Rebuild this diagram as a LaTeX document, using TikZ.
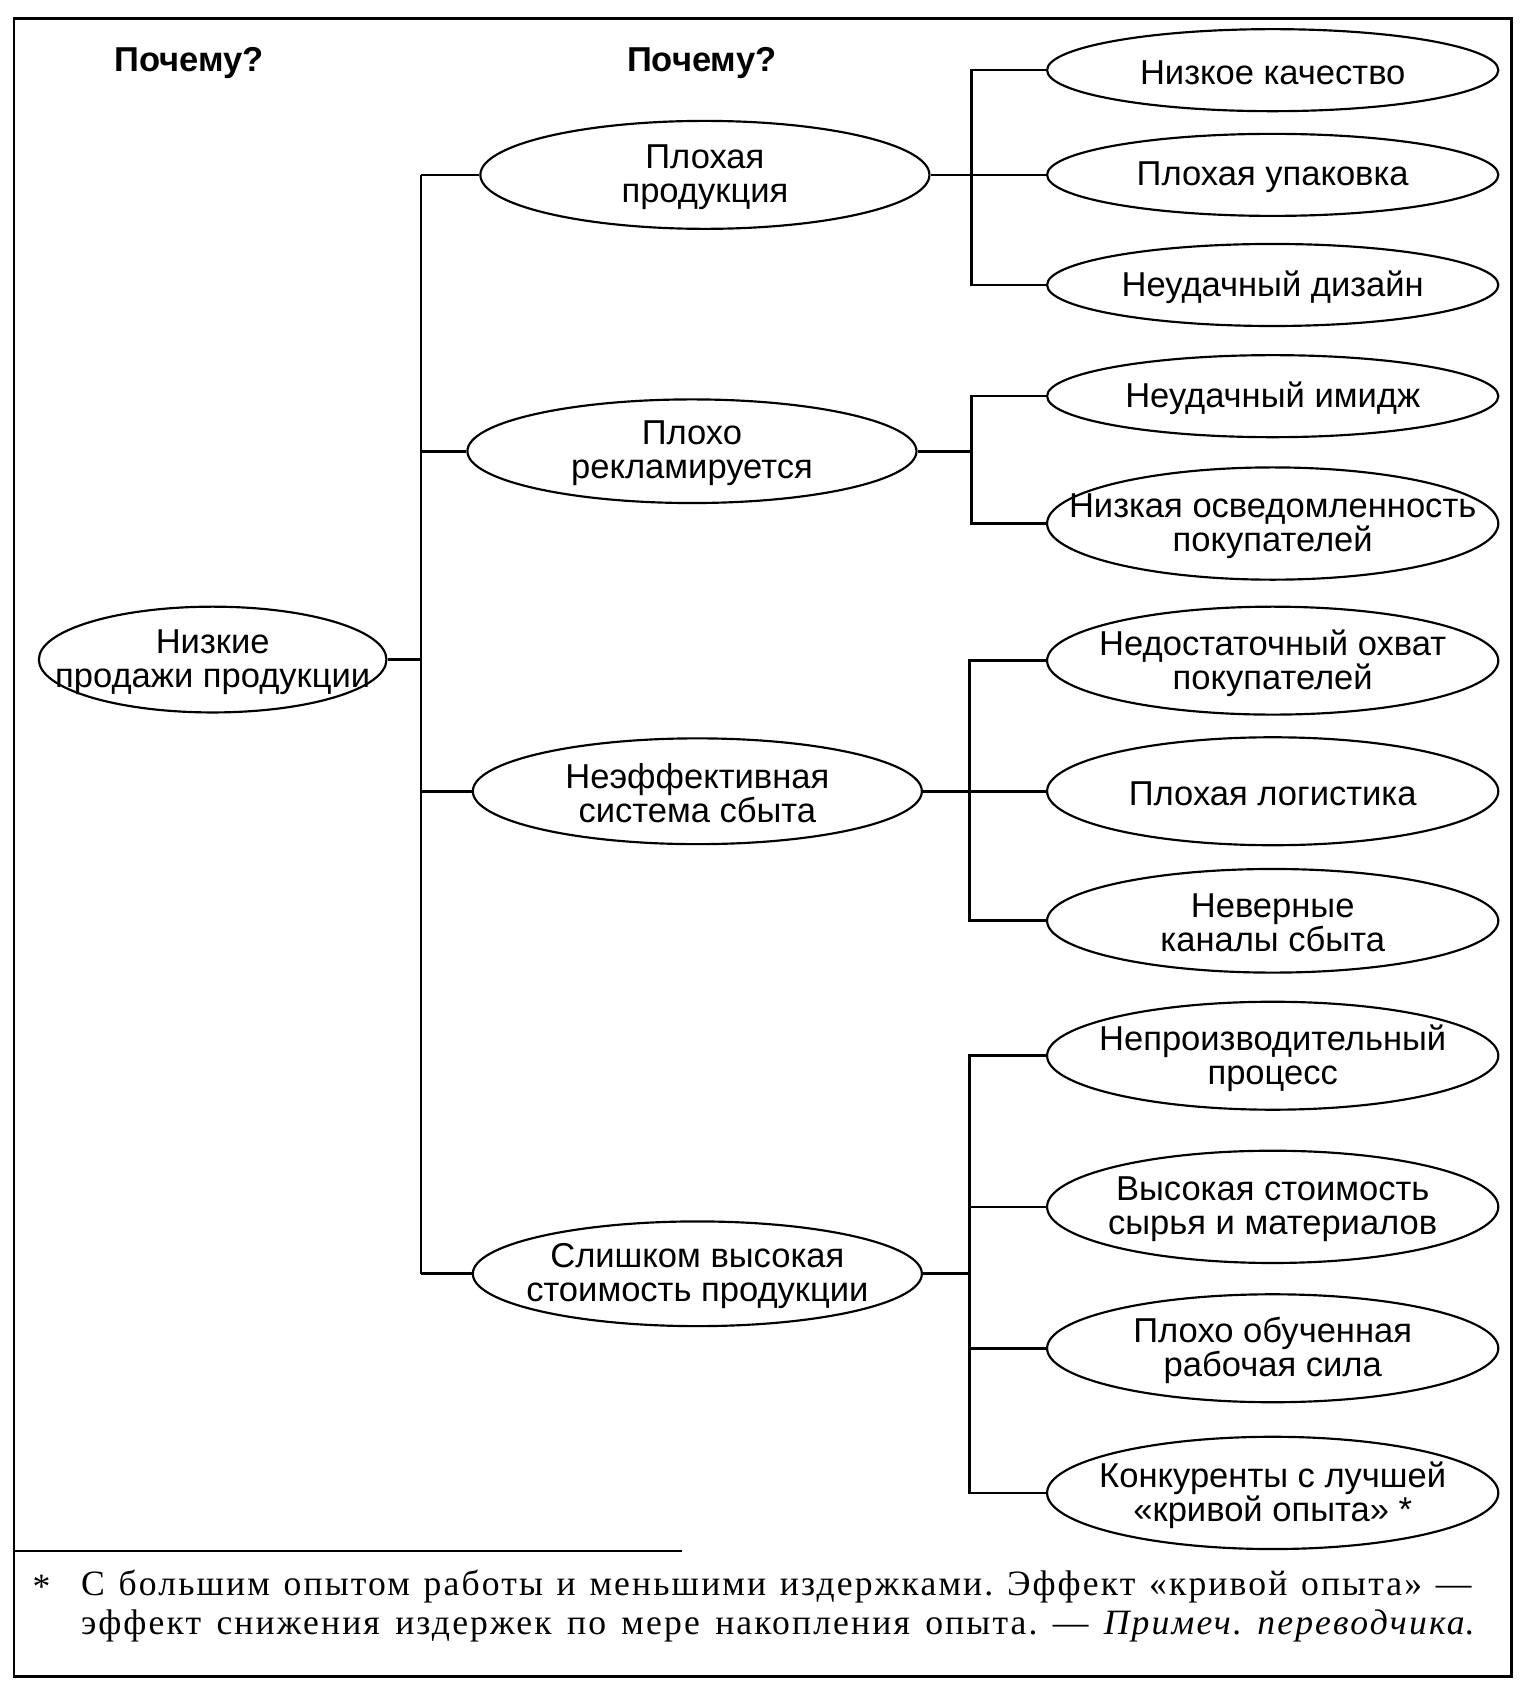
\documentclass[tikz,border=0pt]{standalone}
\usepackage{fontspec}
\setmainfont{Liberation Serif}
\newfontfamily\ellfont{Liberation Sans}
\newfontfamily\footfont[LetterSpace=6]{Liberation Serif}
\usetikzlibrary{shapes.geometric}
\begin{document}
\begin{tikzpicture}[x=1pt,y=-1pt,
  ell/.style={draw, ellipse, line width=2pt, inner sep=0pt},
  txt/.style={align=center, inner sep=0pt, yshift=-2pt, font=\ellfont\fontsize{32}{31.5}\selectfont},
  conn/.style={line width=2.4pt},
  hdr/.style={inner sep=0pt, font=\ellfont\bfseries\fontsize{32}{32}\selectfont},
  foot/.style={anchor=west, inner sep=0pt, font=\footfont\frenchspacing\fontsize{33}{36}\selectfont}]
\useasboundingbox (0,0) rectangle (1414,1573);
% frame
\draw[line width=2.5pt] (13,17) rectangle (1400,1553);
\draw[line width=1.6pt] (13,1437) -- (632,1437);
% headers
\node[hdr] (h1) at (175,58) {Почему?};
\node[hdr] (h2) at (650,58) {Почему?};
% root
\node[ell, minimum width=322pt, minimum height=98pt] (r) at (197,611) {};
\node[txt] (rt) at (r) {Низкие\\продажи продукции};
% level 2
\node[ell, minimum width=416pt, minimum height=100pt] (a1) at (653,162) {};
\node[txt] (a1t) at (a1) {Плохая\\продукция};
\node[ell, minimum width=416pt, minimum height=96pt] (a2) at (641,418) {};
\node[txt] (a2t) at (a2) {Плохо\\рекламируется};
\node[ell, minimum width=416pt, minimum height=98pt] (a3) at (646,733) {};
\node[txt] (a3t) at (a3) {Неэффективная\\система сбыта};
\node[ell, minimum width=416pt, minimum height=97pt] (a4) at (646,1180) {};
\node[txt] (a4t) at (a4) {Слишком высокая\\стоимость продукции};
% level 3
\node[ell, minimum width=418pt, minimum height=76pt] (b1) at (1179,65) {};
\node[txt] (b1t) at (b1) {Низкое качество};
\node[ell, minimum width=418pt, minimum height=76pt] (b2) at (1179,162) {};
\node[txt] (b2t) at (b2) {Плохая упаковка};
\node[ell, minimum width=418pt, minimum height=76pt] (b3) at (1179,264) {};
\node[txt] (b3t) at (b3) {Неудачный дизайн};
\node[ell, minimum width=418pt, minimum height=76pt] (c1) at (1179,367) {};
\node[txt] (c1t) at (c1) {Неудачный имидж};
\node[ell, minimum width=418pt, minimum height=104pt] (c2) at (1179,485) {};
\node[txt] (c2t) at (c2) {Низкая осведомленность\\покупателей};
\node[ell, minimum width=418pt, minimum height=100pt] (d1) at (1179,612) {};
\node[txt] (d1t) at (d1) {Недостаточный охват\\покупателей};
\node[ell, minimum width=418pt, minimum height=100pt] (d2) at (1179,733) {};
\node[txt] (d2t) at (d2) {Плохая логистика};
\node[ell, minimum width=418pt, minimum height=96pt] (d3) at (1179,853) {};
\node[txt] (d3t) at (d3) {Неверные\\каналы сбыта};
\node[ell, minimum width=418pt, minimum height=100pt] (e1) at (1179,978) {};
\node[txt] (e1t) at (e1) {Непроизводительный\\процесс};
\node[ell, minimum width=418pt, minimum height=104pt] (e2) at (1179,1118) {};
\node[txt] (e2t) at (e2) {Высокая стоимость\\сырья и материалов};
\node[ell, minimum width=418pt, minimum height=100pt] (e3) at (1179,1249) {};
\node[txt] (e3t) at (e3) {Плохо обученная\\рабочая сила};
\node[ell, minimum width=418pt, minimum height=104pt] (e4) at (1179,1383) {};
\node[txt] (e4t) at (e4) {Конкуренты с лучшей\\«кривой опыта» *};
% trunk coordinates
\coordinate (tk) at (390,0);
\coordinate (g1) at (900,0);
\coordinate (g2) at (900,0);
\coordinate (g3) at (898,0);
\coordinate (g4) at (898,0);
% trunk
\draw[conn] (r.east) -- (r.east -| tk);
\draw[conn] (a1.west -| tk) -- (a4.west -| tk);
\foreach \n in {a1,a2,a3,a4} \draw[conn] (\n.west -| tk) -- (\n.west);
% group 1
\draw[conn] (a1.east) -- (b2.west);
\draw[conn] (b1.west) -- (b1.west -| g1) -- (b3.west -| g1) -- (b3.west);
% group 2
\draw[conn] (a2.east) -- (a2.east -| g2);
\draw[conn] (c1.west) -- (c1.west -| g2) -- (c2.west -| g2) -- (c2.west);
% group 3
\draw[conn] (a3.east) -- (d2.west);
\draw[conn] (d1.west) -- (d1.west -| g3) -- (d3.west -| g3) -- (d3.west);
% group 4
\draw[conn] (a4.east) -- (a4.east -| g4);
\draw[conn] (e1.west) -- (e1.west -| g4) -- (e4.west -| g4) -- (e4.west);
\foreach \n in {e2,e3} \draw[conn] (\n.west -| g4) -- (\n.west);
% footnote
\node[foot] (fa) at (30,1470) {*};
\node[foot] (f1) at (75,1470) {\makebox[1288pt][s]{С большим опытом работы и меньшими издержками. Эффект «кривой опыта» —}};
\node[foot] (f2) at (75,1506) {\makebox[1290pt][s]{эффект снижения издержек по мере накопления опыта. — \textit{Примеч. переводчика}.}};
\end{tikzpicture}
\end{document}
